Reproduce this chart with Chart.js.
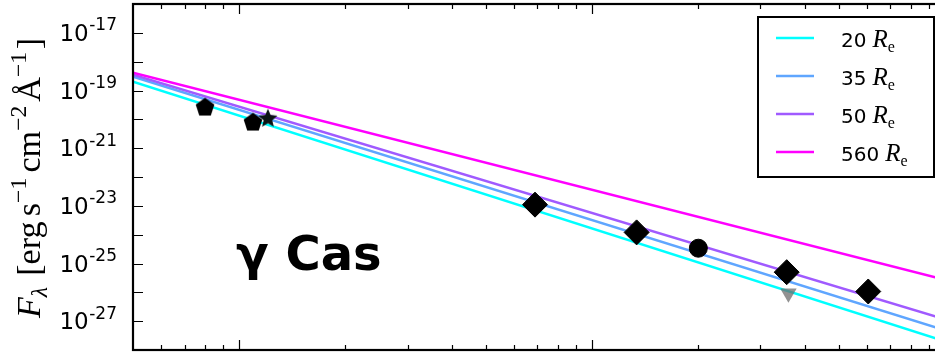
<!DOCTYPE html>
<html>
<head>
<meta charset="utf-8">
<script src="https://cdn.jsdelivr.net/npm/chart.js@4.4.0/dist/chart.umd.min.js"></script>
<style>
  html, body { margin: 0; padding: 0; background: #fff; overflow: hidden; width: 935px; height: 356px; }
  #wrap { position: relative; width: 950px; height: 356px; }
  #sed { width: 950px; height: 356px; }
</style>
</head>
<body>
<div id="wrap"><canvas id="sed" width="950" height="356"></canvas></div>
<script>
// Axis ranges (wavelength in micron, flux density in erg s^-1 cm^-2 Å^-1)
const xRange = [0.5, 100];
const yRange = [1e-28, 1e-16];
const xMajorTicks = [1, 10];
const xMinorTicks = [0.6, 0.7, 0.8, 0.9, 2, 3, 4, 5, 6, 7, 8, 9, 20, 30, 40, 50, 60, 70, 80, 90];
const yTickExponents = [-27, -26, -25, -24, -23, -22, -21, -20, -19, -18, -17];
const yLabelExponents = [-17, -19, -21, -23, -25, -27];

// Disk model curves, evaluated at the ends of the wavelength range
const modelWavelengths = [0.5, 100];
const model20 = [2.04e-19, 2.0e-28];
const model35 = [3.02e-19, 4.79e-28];
const model50 = [3.55e-19, 1.17e-27];
const model560 = [4.17e-19, 2.75e-26];
const modelLabels = ['20', '35', '50', '560'];
const modelColors = ['#00ffff', '#5fa6ff', '#a05aff', '#ff00ff'];

// Observed photometry
const opticalWl = [0.80, 1.094];
const opticalFlux = [2.57e-20, 7.76e-21];
const nirWl = [1.206];
const nirFlux = [1.05e-20];
const midIrWl = [6.89, 13.37, 35.6, 60.6];
const midIrFlux = [1.10e-23, 1.20e-24, 5.0e-26, 1.07e-26];
const irasWl = [20.0];
const irasFlux = [3.39e-25];
const limitWl = [36.0];
const limitFlux = [9.3e-27];

const pts = (xs, ys) => xs.map((x, i) => ({ x, y: ys[i] }));

function polygonMarker(r, sides, inner, color) {
  const s = Math.ceil(2 * r + 2);
  const c = document.createElement('canvas');
  c.width = s; c.height = s;
  const g = c.getContext('2d');
  g.fillStyle = color;
  g.beginPath();
  const n = inner ? sides * 2 : sides;
  for (let k = 0; k < n; k++) {
    const a = -Math.PI / 2 + k * 2 * Math.PI / n;
    const rr = inner && (k % 2 === 1) ? r * inner : r;
    const px = s / 2 + rr * Math.cos(a), py = s / 2 + rr * Math.sin(a);
    if (k === 0) g.moveTo(px, py); else g.lineTo(px, py);
  }
  g.closePath();
  g.fill();
  return c;
}
const pentagon = polygonMarker(9.8, 5, 0, '#000');
const star = polygonMarker(10, 5, 0.45, '#0a1414');

const modelSets = [model20, model35, model50, model560].map((vals, i) => ({
  type: 'line',
  label: modelLabels[i],
  data: pts(modelWavelengths, vals),
  borderColor: modelColors[i],
  borderWidth: 2.5,
  pointRadius: 0,
  fill: false,
  order: 10 - i
}));

const pointSets = [
  { data: pts(opticalWl, opticalFlux), pointStyle: pentagon, pointRadius: 9, order: 2 },
  { data: pts(nirWl, nirFlux), pointStyle: star, pointRadius: 9, order: 2 },
  { data: pts(limitWl, limitFlux), pointStyle: 'triangle', pointRotation: 180, pointRadius: 9.5,
    pointBackgroundColor: 'rgba(110,110,110,0.75)', pointBorderColor: 'rgba(110,110,110,0)', order: 3 },
  { data: pts(midIrWl, midIrFlux), pointStyle: 'rectRot', pointRadius: 12.5, order: 1 },
  { data: pts(irasWl, irasFlux), pointStyle: 'circle', pointRadius: 9, order: 1 }
].map(d => Object.assign({
  type: 'scatter',
  pointBackgroundColor: '#000',
  pointBorderColor: '#000',
  pointBorderWidth: 1,
  showLine: false
}, d));

function richWidth(ctx, segs) {
  let w = 0;
  for (const s of segs) { ctx.font = s.font; w += ctx.measureText(s.t).width + (s.dx || 0); }
  return w;
}
function drawRich(ctx, segs, x, y) {
  for (const s of segs) {
    ctx.font = s.font;
    ctx.fillText(s.t, x + (s.dx || 0), y + (s.dy || 0));
    x += ctx.measureText(s.t).width + (s.dx || 0);
  }
  return x;
}

const frame = {
  id: 'frame',
  afterDraw(chart) {
    const ctx = chart.ctx;
    const a = chart.chartArea;
    const xs = chart.scales.x, ys = chart.scales.y;
    ctx.save();
    ctx.strokeStyle = '#000';
    // inward tick marks
    ctx.lineWidth = 1.2;
    ctx.beginPath();
    const xt = (v, len) => {
      const px = Math.round(xs.getPixelForValue(v)) + 0.5;
      ctx.moveTo(px, a.bottom); ctx.lineTo(px, a.bottom - len);
      ctx.moveTo(px, a.top); ctx.lineTo(px, a.top + len);
    };
    xMajorTicks.forEach(v => xt(v, 10));
    xMinorTicks.forEach(v => xt(v, 5));
    yTickExponents.forEach(e => {
      const py = Math.round(ys.getPixelForValue(Math.pow(10, e))) + 0.5;
      ctx.moveTo(a.left, py); ctx.lineTo(a.left + 10, py);
      ctx.moveTo(a.right, py); ctx.lineTo(a.right - 10, py);
    });
    ctx.stroke();
    // axes frame
    ctx.lineWidth = 2.2;
    ctx.strokeRect(a.left, a.top, a.right - a.left, a.bottom - a.top);

    // y tick labels 10^n
    ctx.fillStyle = '#000';
    ctx.textBaseline = 'alphabetic';
    yLabelExponents.forEach(e => {
      const py = ys.getPixelForValue(Math.pow(10, e));
      ctx.font = '17px "DejaVu Sans"';
      ctx.textAlign = 'right';
      const sup = '-' + String(-e);
      ctx.fillText(sup, 117, py - 2.5);
      const sw = ctx.measureText(sup).width;
      ctx.font = '23px "DejaVu Sans"';
      ctx.fillText('10', 117 - sw - 0.5, py + 8);
    });
    ctx.textAlign = 'left';

    // y axis title
    const base = 26;
    const serif = '"Liberation Serif", "DejaVu Serif", serif';
    const big = base + 'px ' + serif, small = Math.round(base * 0.68) + 'px ' + serif;
    const segs = [
      { t: 'F', font: 'italic ' + big },
      { t: 'λ', font: 'italic ' + small, dy: 5 },
      { t: ' [erg', font: big, dx: 2 },
      { t: 's', font: big, dx: 4 },
      { t: '−1', font: small, dy: -11 },
      { t: 'cm', font: big, dx: 4 },
      { t: '−2', font: small, dy: -11 },
      { t: 'Å', font: big, dx: 3 },
      { t: '−1', font: small, dy: -11 },
      { t: ']', font: big, dx: 2 }
    ];
    const tw = richWidth(ctx, segs);
    const k = 280 / tw;
    ctx.save();
    ctx.translate(40, 178);
    ctx.rotate(-Math.PI / 2);
    ctx.scale(k, k);
    drawRich(ctx, segs, -tw / 2, 0);
    ctx.restore();

    // star name
    ctx.font = 'bold 48px "DejaVu Sans"';
    ctx.fillText('γ Cas', 236, 270);

    // legend
    const lx = 758, ly = 17, lw = 176, lh = 160;
    ctx.fillStyle = '#fff';
    ctx.fillRect(lx, ly, lw, lh);
    ctx.lineWidth = 2;
    ctx.strokeStyle = '#000';
    ctx.strokeRect(lx, ly, lw, lh);
    modelLabels.forEach((lab, i) => {
      const yy = 38 + i * 38;
      ctx.strokeStyle = modelColors[i];
      ctx.lineWidth = 2.5;
      ctx.beginPath(); ctx.moveTo(776, yy); ctx.lineTo(814, yy); ctx.stroke();
      ctx.fillStyle = '#000';
      drawRich(ctx, [
        { t: lab, font: '20px "DejaVu Sans"' },
        { t: 'R', font: 'italic 25px ' + serif, dx: 6 },
        { t: 'e', font: '16px ' + serif, dy: 5 }
      ], 841, yy + 8.5);
    });
    ctx.restore();
  }
};

new Chart(document.getElementById('sed'), {
  data: { datasets: [...pointSets, ...modelSets] },
  options: {
    responsive: false,
    animation: false,
    devicePixelRatio: 1,
    layout: { autoPadding: false, padding: { left: 133, top: 4, right: 5, bottom: 6 } },
    plugins: { legend: { display: false }, tooltip: { enabled: false } },
    scales: {
      x: { type: 'logarithmic', min: xRange[0], max: xRange[1], display: false },
      y: { type: 'logarithmic', min: yRange[0], max: yRange[1], display: false }
    }
  },
  plugins: [frame]
});
</script>
</body>
</html>
